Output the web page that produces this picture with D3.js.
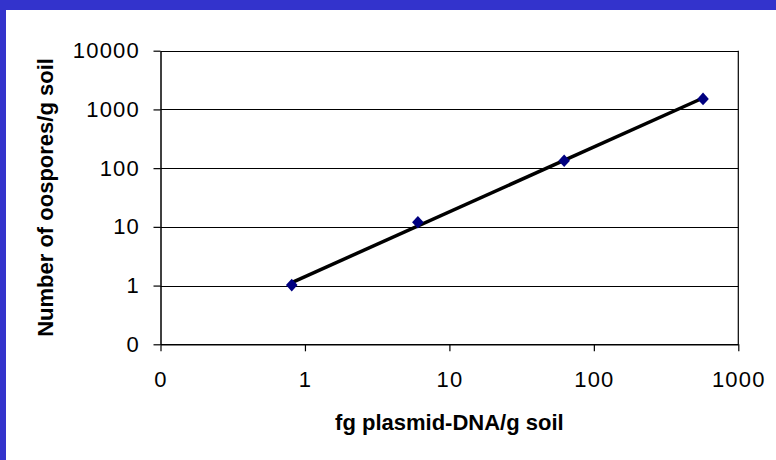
<!DOCTYPE html>
<html>
<head>
<meta charset="utf-8">
<script src="https://cdn.jsdelivr.net/npm/d3@7"></script>
<style>
  body { margin: 0; background: #fff; }
  svg { display: block; }
  text { font-family: Arial, "Liberation Sans", sans-serif; fill: #000; }
</style>
</head>
<body>
<svg id="chart" width="776" height="460"></svg>
<script>
// fg plasmid-DNA per g soil vs oospores per g soil
var plasmidDNA = [0.81, 6.05, 62.3, 570];
var oospores = [1.02, 12, 134, 1510];
var xTickValues = [0.1, 1, 10, 100, 1000];
var yTickValues = [0.1, 1, 10, 100, 1000, 10000];
var xTitle = "fg plasmid-DNA/g soil";
var yTitle = "Number of oospores/g soil";

var svg = d3.select("#chart");
var width = 776, height = 460;

// blue frame (top and left only), white panel
svg.append("rect").attr("width", width).attr("height", height).attr("fill", "#3333cc");
svg.append("rect").attr("x", 6).attr("y", 10).attr("width", width - 6).attr("height", height - 10).attr("fill", "#fff");

var plotL = 160.5, plotR = 738.3, plotT = 50.7, plotB = 344.3;

var x = d3.scaleLog().domain([0.1, 1000]).range([plotL, plotR]);
var y = d3.scaleLog().domain([0.1, 10000]).range([plotB, plotT]);
var fmt = d3.format(".0f");

// gridlines
svg.append("g")
    .selectAll("line")
    .data(yTickValues)
    .enter().append("line")
    .attr("x1", plotL).attr("x2", plotR)
    .attr("y1", d => Math.round(y(d)) + 0.5).attr("y2", d => Math.round(y(d)) + 0.5)
    .attr("stroke", "#000").attr("stroke-width", 1);

// right frame line
svg.append("line")
    .attr("x1", plotR).attr("x2", plotR).attr("y1", plotT).attr("y2", plotB)
    .attr("stroke", "#000").attr("stroke-width", 1.2);

var xAxis = svg.append("g")
    .attr("transform", "translate(0," + plotB + ")")
    .call(d3.axisBottom(x).tickValues(xTickValues).tickFormat(fmt).tickSize(7).tickSizeOuter(0).tickPadding(20));
var yAxis = svg.append("g")
    .attr("transform", "translate(" + plotL + ",0)")
    .call(d3.axisLeft(y).tickValues(yTickValues).tickFormat(fmt).tickSize(7).tickSizeOuter(0).tickPadding(13.5));

[xAxis, yAxis].forEach(function (a) {
    a.select(".domain").attr("stroke", "#000").attr("stroke-width", 1.5);
    a.selectAll(".tick line").attr("stroke", "#000").attr("stroke-width", 1.2);
    a.selectAll(".tick text")
        .attr("fill", "#000")
        .style("font-size", "22px")
        .style("letter-spacing", "1.2px")
        .style("font-family", "Arial, 'Liberation Sans', sans-serif");
});

// power trendline: least squares in log-log space
var lx = plasmidDNA.map(d => Math.log10(d));
var ly = oospores.map(d => Math.log10(d));
var mx = d3.mean(lx), my = d3.mean(ly);
var slope = d3.sum(lx, (d, i) => (d - mx) * (ly[i] - my)) / d3.sum(lx, d => (d - mx) * (d - mx));
var icpt = my - slope * mx;
var xExt = d3.extent(plasmidDNA);
var trend = xExt.map(d => [d, Math.pow(10, icpt + slope * Math.log10(d))]);

svg.append("path")
    .datum(trend)
    .attr("d", d3.line().x(d => x(d[0])).y(d => y(d[1])))
    .attr("fill", "none")
    .attr("stroke", "#000")
    .attr("stroke-width", 3.5);

// diamond markers
svg.append("g")
    .selectAll("path")
    .data(plasmidDNA)
    .enter().append("path")
    .attr("transform", (d, i) => "translate(" + x(d) + "," + y(oospores[i]) + ")")
    .attr("d", "M0,-6.3L5.8,0L0,6.3L-5.8,0Z")
    .attr("fill", "#000080");

// axis titles
svg.append("text")
    .attr("x", (plotL + plotR) / 2)
    .attr("y", 430)
    .attr("text-anchor", "middle")
    .style("font-size", "22px")
    .style("font-weight", "bold")
    .text(xTitle);

svg.append("text")
    .attr("transform", "translate(53," + (plotT + plotB) / 2 + ") rotate(-90)")
    .attr("text-anchor", "middle")
    .style("font-size", "22px")
    .style("font-weight", "bold")
    .text(yTitle);
</script>
</body>
</html>
